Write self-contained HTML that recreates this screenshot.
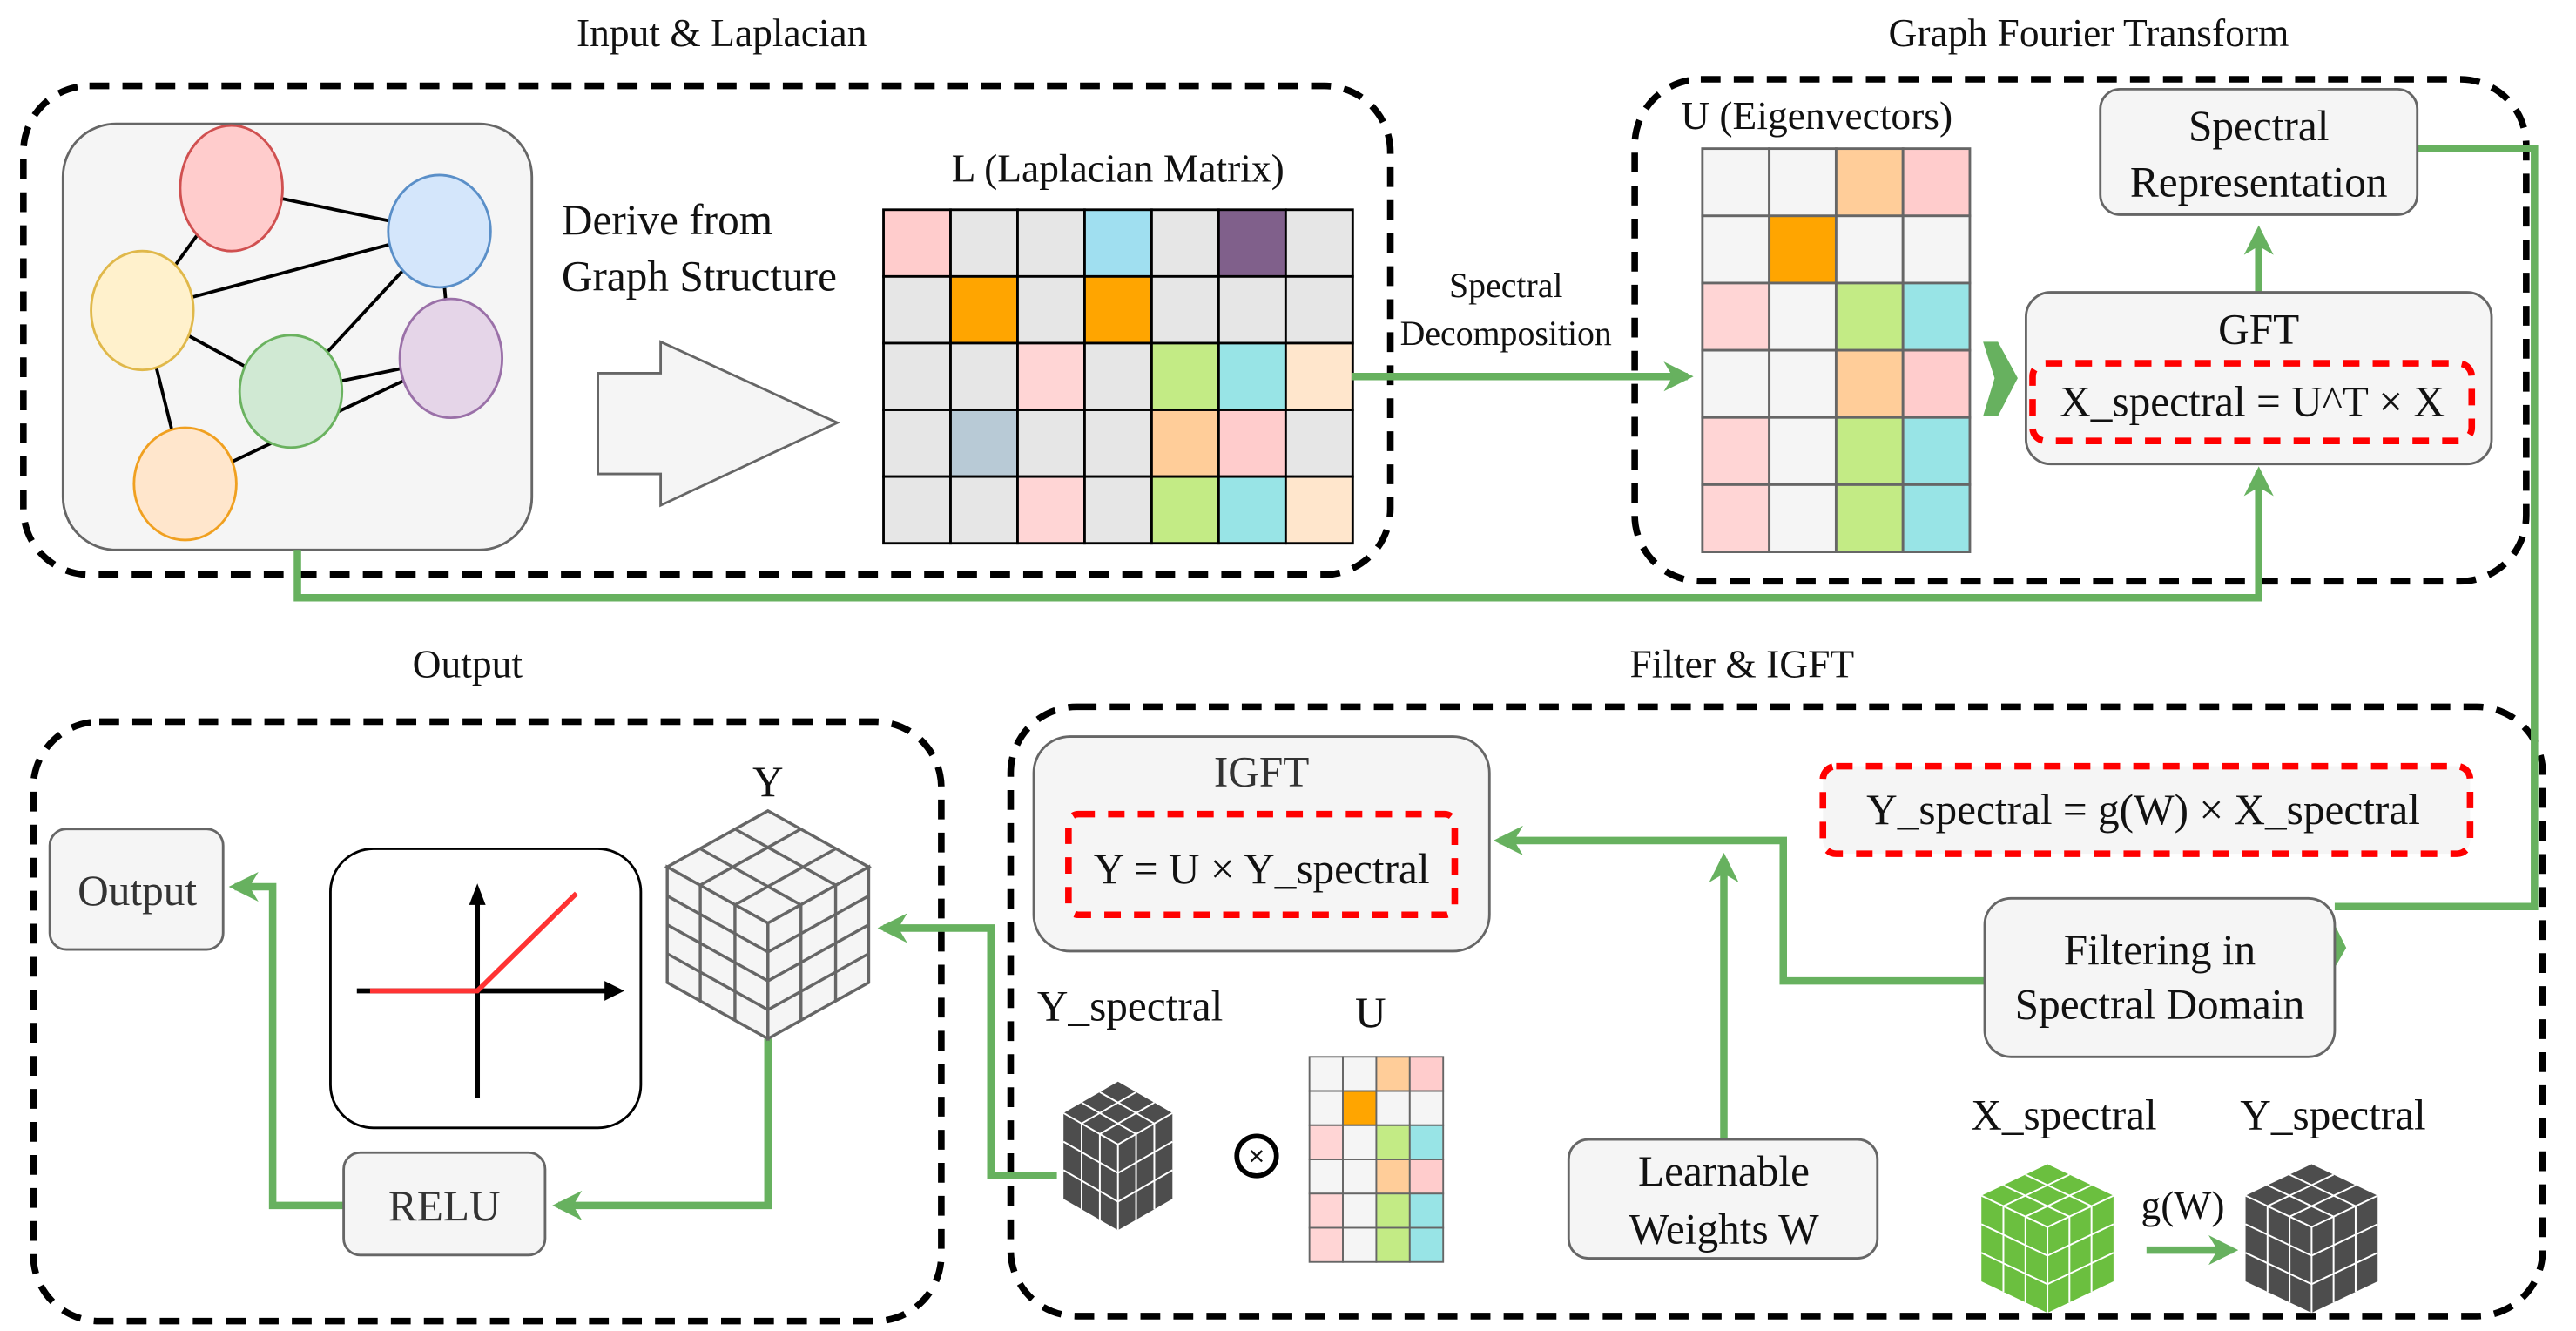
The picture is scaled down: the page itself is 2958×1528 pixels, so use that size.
<!DOCTYPE html>
<html><head><meta charset="utf-8"><style>
html,body{margin:0;padding:0;background:#fff;}
svg{display:block;}
text{font-family:"Liberation Serif","Times New Roman",serif;fill:#111;}
</style></head><body>
<svg width="2958" height="1528" viewBox="0 0 1560 806" xmlns="http://www.w3.org/2000/svg" font-family="Liberation Serif, serif">
<defs>
<marker id="ah" viewBox="0 0 10 10" refX="8" refY="5" markerWidth="4" markerHeight="4" orient="auto" markerUnits="strokeWidth">
<path d="M0,0 L10,5 L0,10 L3,5 Z" fill="#67b15f"/>
</marker>
</defs>

<g font-size="24" text-anchor="middle">
<text x="437" y="28">Input &amp; Laplacian</text>
<text x="1265" y="28">Graph Fourier Transform</text>
<text x="283" y="410">Output</text>
<text x="1055" y="410">Filter &amp; IGFT</text>
</g>

<g fill="none" stroke="#000" stroke-width="4" stroke-dasharray="12 8">
<rect x="14" y="52" width="828" height="296" rx="40"/>
<rect x="990" y="48" width="540" height="304" rx="40"/>
<rect x="20" y="437" width="550" height="363" rx="40"/>
<rect x="612" y="428" width="928" height="369" rx="40"/>
</g>

<rect x="38" y="75" width="284" height="258" rx="32" fill="#f5f5f5" stroke="#666" stroke-width="1.5"/>
<g stroke="#000" stroke-width="2">
<line x1="140" y1="114" x2="86" y2="188"/>
<line x1="140" y1="114" x2="266" y2="140"/>
<line x1="86" y1="188" x2="266" y2="140"/>
<line x1="176" y1="237" x2="266" y2="140"/>
<line x1="86" y1="188" x2="176" y2="237"/>
<line x1="86" y1="188" x2="112" y2="293"/>
<line x1="176" y1="237" x2="273" y2="217"/>
<line x1="112" y1="293" x2="273" y2="217"/>
<line x1="266" y1="140" x2="273" y2="217"/>
</g>
<g stroke-width="1.5">
<ellipse cx="140" cy="114" rx="31" ry="38" fill="#ffcccc" stroke="#d05050"/>
<ellipse cx="266" cy="140" rx="31" ry="34" fill="#d4e6fb" stroke="#5a8fc8"/>
<ellipse cx="86" cy="188" rx="31" ry="36" fill="#fff1cc" stroke="#e0b84a"/>
<ellipse cx="273" cy="217" rx="31" ry="36" fill="#e5d5e8" stroke="#9a70a8"/>
<ellipse cx="176" cy="237" rx="31" ry="34" fill="#d0e9d3" stroke="#6ab25f"/>
<ellipse cx="112" cy="293" rx="31" ry="34" fill="#ffe6cc" stroke="#f0a020"/>
</g>

<text x="340" y="142" font-size="26">Derive from</text>
<text x="340" y="176" font-size="26">Graph Structure</text>
<polygon points="362,226 400,226 400,207 507,256 400,306 400,287 362,287" fill="#f5f5f5" stroke="#666" stroke-width="1.5"/>

<text x="677" y="110" font-size="24" text-anchor="middle">L (Laplacian Matrix)</text>
<g stroke="#000" stroke-width="1.5">
<rect x="535" y="127" width="40.6" height="40.4" fill="#ffcccc"/>
<rect x="575.6" y="127" width="40.6" height="40.4" fill="#e6e6e6"/>
<rect x="616.2" y="127" width="40.6" height="40.4" fill="#e6e6e6"/>
<rect x="656.8" y="127" width="40.6" height="40.4" fill="#a0dff0"/>
<rect x="697.4" y="127" width="40.6" height="40.4" fill="#e6e6e6"/>
<rect x="738" y="127" width="40.6" height="40.4" fill="#80608b"/>
<rect x="778.6" y="127" width="40.6" height="40.4" fill="#e6e6e6"/>
<rect x="535" y="167.4" width="40.6" height="40.4" fill="#e6e6e6"/>
<rect x="575.6" y="167.4" width="40.6" height="40.4" fill="#ffa500"/>
<rect x="616.2" y="167.4" width="40.6" height="40.4" fill="#e6e6e6"/>
<rect x="656.8" y="167.4" width="40.6" height="40.4" fill="#ffa500"/>
<rect x="697.4" y="167.4" width="40.6" height="40.4" fill="#e6e6e6"/>
<rect x="738" y="167.4" width="40.6" height="40.4" fill="#e6e6e6"/>
<rect x="778.6" y="167.4" width="40.6" height="40.4" fill="#e6e6e6"/>
<rect x="535" y="207.8" width="40.6" height="40.4" fill="#e6e6e6"/>
<rect x="575.6" y="207.8" width="40.6" height="40.4" fill="#e6e6e6"/>
<rect x="616.2" y="207.8" width="40.6" height="40.4" fill="#ffd5d5"/>
<rect x="656.8" y="207.8" width="40.6" height="40.4" fill="#e6e6e6"/>
<rect x="697.4" y="207.8" width="40.6" height="40.4" fill="#c3eb85"/>
<rect x="738" y="207.8" width="40.6" height="40.4" fill="#98e4e6"/>
<rect x="778.6" y="207.8" width="40.6" height="40.4" fill="#ffe6cc"/>
<rect x="535" y="248.2" width="40.6" height="40.4" fill="#e6e6e6"/>
<rect x="575.6" y="248.2" width="40.6" height="40.4" fill="#b8cad6"/>
<rect x="616.2" y="248.2" width="40.6" height="40.4" fill="#e6e6e6"/>
<rect x="656.8" y="248.2" width="40.6" height="40.4" fill="#e6e6e6"/>
<rect x="697.4" y="248.2" width="40.6" height="40.4" fill="#ffcd99"/>
<rect x="738" y="248.2" width="40.6" height="40.4" fill="#ffcccc"/>
<rect x="778.6" y="248.2" width="40.6" height="40.4" fill="#e6e6e6"/>
<rect x="535" y="288.6" width="40.6" height="40.4" fill="#e6e6e6"/>
<rect x="575.6" y="288.6" width="40.6" height="40.4" fill="#e6e6e6"/>
<rect x="616.2" y="288.6" width="40.6" height="40.4" fill="#ffd5d5"/>
<rect x="656.8" y="288.6" width="40.6" height="40.4" fill="#e6e6e6"/>
<rect x="697.4" y="288.6" width="40.6" height="40.4" fill="#c3eb85"/>
<rect x="738" y="288.6" width="40.6" height="40.4" fill="#98e4e6"/>
<rect x="778.6" y="288.6" width="40.6" height="40.4" fill="#ffe6cc"/>
</g>

<g fill="none" stroke="#67b15f" stroke-width="4.5" stroke-linejoin="miter">
<polyline points="819,228 1022,228" marker-end="url(#ah)"/>
<polyline points="1368,177 1368,140" marker-end="url(#ah)"/>
<polyline points="180,333 180,362 1368,362 1368,286" marker-end="url(#ah)"/>
<polyline points="1464,90 1535,90 1535,549 1414,549"/>
<polyline points="465,629 465,730 338,730" marker-end="url(#ah)"/>
<polyline points="208,730 165,730 165,537 142,537" marker-end="url(#ah)"/>
<polyline points="640,712 600,712 600,562 535,562" marker-end="url(#ah)"/>
<polyline points="1044,690 1044,520" marker-end="url(#ah)"/>
<polyline points="1202,594 1080,594 1080,509 908,509" marker-end="url(#ah)"/>
<polyline points="1300,757 1352,757" marker-end="url(#ah)"/>
</g>
<polygon points="1414,560 1421,574 1414,586" fill="#67b15f"/>

<text x="912" y="180" font-size="21" text-anchor="middle">Spectral</text>
<text x="912" y="209" font-size="21" text-anchor="middle">Decomposition</text>

<text x="1018" y="78" font-size="24">U (Eigenvectors)</text>
<g stroke="#666" stroke-width="1.5">
<rect x="1031" y="90" width="40.5" height="40.7" fill="#f5f5f5"/>
<rect x="1071.5" y="90" width="40.5" height="40.7" fill="#f5f5f5"/>
<rect x="1112" y="90" width="40.5" height="40.7" fill="#ffcd99"/>
<rect x="1152.5" y="90" width="40.5" height="40.7" fill="#ffcccc"/>
<rect x="1031" y="130.7" width="40.5" height="40.7" fill="#f5f5f5"/>
<rect x="1071.5" y="130.7" width="40.5" height="40.7" fill="#ffa500"/>
<rect x="1112" y="130.7" width="40.5" height="40.7" fill="#f5f5f5"/>
<rect x="1152.5" y="130.7" width="40.5" height="40.7" fill="#f5f5f5"/>
<rect x="1031" y="171.4" width="40.5" height="40.7" fill="#ffd5d5"/>
<rect x="1071.5" y="171.4" width="40.5" height="40.7" fill="#f5f5f5"/>
<rect x="1112" y="171.4" width="40.5" height="40.7" fill="#c3eb85"/>
<rect x="1152.5" y="171.4" width="40.5" height="40.7" fill="#98e4e6"/>
<rect x="1031" y="212.1" width="40.5" height="40.7" fill="#f5f5f5"/>
<rect x="1071.5" y="212.1" width="40.5" height="40.7" fill="#f5f5f5"/>
<rect x="1112" y="212.1" width="40.5" height="40.7" fill="#ffcd99"/>
<rect x="1152.5" y="212.1" width="40.5" height="40.7" fill="#ffcccc"/>
<rect x="1031" y="252.8" width="40.5" height="40.7" fill="#ffd5d5"/>
<rect x="1071.5" y="252.8" width="40.5" height="40.7" fill="#f5f5f5"/>
<rect x="1112" y="252.8" width="40.5" height="40.7" fill="#c3eb85"/>
<rect x="1152.5" y="252.8" width="40.5" height="40.7" fill="#98e4e6"/>
<rect x="1031" y="293.5" width="40.5" height="40.7" fill="#ffd5d5"/>
<rect x="1071.5" y="293.5" width="40.5" height="40.7" fill="#f5f5f5"/>
<rect x="1112" y="293.5" width="40.5" height="40.7" fill="#c3eb85"/>
<rect x="1152.5" y="293.5" width="40.5" height="40.7" fill="#98e4e6"/>
</g>
<polygon points="1201,207 1210,207 1222,229 1210,252 1201,252 1208,229" fill="#67b15f"/>

<rect x="1227" y="177" width="282" height="104" rx="15" fill="#f5f5f5" stroke="#666" stroke-width="1.5"/>
<text x="1368" y="208" font-size="26" text-anchor="middle">GFT</text>
<rect x="1231" y="220" width="266" height="47" rx="8" fill="none" stroke="#f00" stroke-width="4" stroke-dasharray="10 8"/>
<text x="1364" y="252" font-size="26" text-anchor="middle">X_spectral = U^T × X</text>

<rect x="1272" y="54" width="192" height="76" rx="12" fill="#f5f5f5" stroke="#666" stroke-width="1.5"/>
<text x="1368" y="85" font-size="26" text-anchor="middle">Spectral</text>
<text x="1368" y="119" font-size="26" text-anchor="middle">Representation</text>

<rect x="30" y="502" width="105" height="73" rx="10" fill="#f5f5f5" stroke="#666" stroke-width="1.5"/>
<text x="83" y="548" font-size="26" text-anchor="middle" style="fill:#333">Output</text>

<rect x="200" y="514" width="188" height="169" rx="26" fill="#fff" stroke="#000" stroke-width="1.5"/>
<line x1="289" y1="665" x2="289" y2="545" stroke="#000" stroke-width="3"/>
<polygon points="289,535 284,548 294,548" fill="#000"/>
<line x1="216" y1="600" x2="368" y2="600" stroke="#000" stroke-width="3"/>
<polygon points="378,600 366,594 366,606" fill="#000"/>
<polyline points="224,600 289,600 349,541" fill="none" stroke="#f33" stroke-width="3"/>

<text x="465" y="482" font-size="26" text-anchor="middle">Y</text>
<!-- Y cube: top 491, corner 527, center 558, bottom 629 -->
<g stroke="#666" stroke-width="1.8" fill="#f5f5f5">
<polygon points="465,491 526,525 465,559 404,525"/>
<polygon points="404,525 465,559 465,629 404,595"/>
<polygon points="465,559 526,525 526,595 465,629"/>
<g fill="none">
<line x1="485" y1="502" x2="424" y2="536"/>
<line x1="506" y1="514" x2="445" y2="548"/>
<line x1="445" y1="502" x2="506" y2="536"/>
<line x1="424" y1="514" x2="485" y2="548"/>
<line x1="424" y1="536" x2="424" y2="606"/>
<line x1="445" y1="548" x2="445" y2="618"/>
<line x1="485" y1="548" x2="485" y2="618"/>
<line x1="506" y1="536" x2="506" y2="606"/>
<line x1="404" y1="542.5" x2="465" y2="576.5"/>
<line x1="404" y1="560" x2="465" y2="594"/>
<line x1="404" y1="577.5" x2="465" y2="611.5"/>
<line x1="465" y1="576.5" x2="526" y2="542.5"/>
<line x1="465" y1="594" x2="526" y2="560"/>
<line x1="465" y1="611.5" x2="526" y2="577.5"/>
</g>
</g>

<rect x="208" y="698" width="122" height="62" rx="10" fill="#f5f5f5" stroke="#666" stroke-width="1.5"/>
<text x="269" y="739" font-size="26" text-anchor="middle" style="fill:#333">RELU</text>

<rect x="626" y="446" width="276" height="130" rx="22" fill="#f5f5f5" stroke="#666" stroke-width="1.5"/>
<text x="764" y="476" font-size="26" text-anchor="middle" style="fill:#333">IGFT</text>
<rect x="647" y="493" width="234" height="61" rx="6" fill="none" stroke="#f00" stroke-width="4" stroke-dasharray="10 8"/>
<text x="764" y="535" font-size="26" text-anchor="middle">Y = U × Y_spectral</text>

<text x="628" y="618" font-size="26">Y_spectral</text>
<text x="830" y="622" font-size="26" text-anchor="middle">U</text>

<g transform="translate(677,655) scale(33,34.6)">
<polygon points="0,0 1,0.55 0,1.1 -1,0.55" fill="#4d4d4d"/>
<polygon points="-1,0.55 0,1.1 0,2.6 -1,2.05" fill="#4d4d4d"/>
<polygon points="0,1.1 1,0.55 1,2.05 0,2.6" fill="#4d4d4d"/>
<g stroke="#fff" stroke-width="2">
<line x1="0" y1="1.1" x2="0" y2="2.6" vector-effect="non-scaling-stroke"/>
<line x1="-1" y1="0.55" x2="0" y2="1.1" vector-effect="non-scaling-stroke"/>
<line x1="1" y1="0.55" x2="0" y2="1.1" vector-effect="non-scaling-stroke"/>
<line x1="0.333" y1="0.183" x2="-0.667" y2="0.733" vector-effect="non-scaling-stroke"/>
<line x1="0.667" y1="0.367" x2="-0.333" y2="0.917" vector-effect="non-scaling-stroke"/>
<line x1="-0.333" y1="0.183" x2="0.667" y2="0.733" vector-effect="non-scaling-stroke"/>
<line x1="-0.667" y1="0.367" x2="0.333" y2="0.917" vector-effect="non-scaling-stroke"/>
<line x1="-0.667" y1="0.733" x2="-0.667" y2="2.233" vector-effect="non-scaling-stroke"/>
<line x1="-0.333" y1="0.917" x2="-0.333" y2="2.417" vector-effect="non-scaling-stroke"/>
<line x1="0.333" y1="0.917" x2="0.333" y2="2.417" vector-effect="non-scaling-stroke"/>
<line x1="0.667" y1="0.733" x2="0.667" y2="2.233" vector-effect="non-scaling-stroke"/>
<line x1="-1" y1="1.05" x2="0" y2="1.6" vector-effect="non-scaling-stroke"/>
<line x1="-1" y1="1.55" x2="0" y2="2.1" vector-effect="non-scaling-stroke"/>
<line x1="0" y1="1.6" x2="1" y2="1.05" vector-effect="non-scaling-stroke"/>
<line x1="0" y1="2.1" x2="1" y2="1.55" vector-effect="non-scaling-stroke"/>
</g>
</g>

<circle cx="761" cy="700" r="12" fill="#fff" stroke="#000" stroke-width="3"/>
<text x="761" y="706" font-size="18" text-anchor="middle" font-weight="bold">×</text>

<g stroke="#666" stroke-width="1">
<rect x="793" y="640" width="20.25" height="20.7" fill="#f5f5f5"/>
<rect x="813.25" y="640" width="20.25" height="20.7" fill="#f5f5f5"/>
<rect x="833.5" y="640" width="20.25" height="20.7" fill="#ffcd99"/>
<rect x="853.75" y="640" width="20.25" height="20.7" fill="#ffcccc"/>
<rect x="793" y="660.7" width="20.25" height="20.7" fill="#f5f5f5"/>
<rect x="813.25" y="660.7" width="20.25" height="20.7" fill="#ffa500"/>
<rect x="833.5" y="660.7" width="20.25" height="20.7" fill="#f5f5f5"/>
<rect x="853.75" y="660.7" width="20.25" height="20.7" fill="#f5f5f5"/>
<rect x="793" y="681.4" width="20.25" height="20.7" fill="#ffd5d5"/>
<rect x="813.25" y="681.4" width="20.25" height="20.7" fill="#f5f5f5"/>
<rect x="833.5" y="681.4" width="20.25" height="20.7" fill="#c3eb85"/>
<rect x="853.75" y="681.4" width="20.25" height="20.7" fill="#98e4e6"/>
<rect x="793" y="702.1" width="20.25" height="20.7" fill="#f5f5f5"/>
<rect x="813.25" y="702.1" width="20.25" height="20.7" fill="#f5f5f5"/>
<rect x="833.5" y="702.1" width="20.25" height="20.7" fill="#ffcd99"/>
<rect x="853.75" y="702.1" width="20.25" height="20.7" fill="#ffcccc"/>
<rect x="793" y="722.8" width="20.25" height="20.7" fill="#ffd5d5"/>
<rect x="813.25" y="722.8" width="20.25" height="20.7" fill="#f5f5f5"/>
<rect x="833.5" y="722.8" width="20.25" height="20.7" fill="#c3eb85"/>
<rect x="853.75" y="722.8" width="20.25" height="20.7" fill="#98e4e6"/>
<rect x="793" y="743.5" width="20.25" height="20.7" fill="#ffd5d5"/>
<rect x="813.25" y="743.5" width="20.25" height="20.7" fill="#f5f5f5"/>
<rect x="833.5" y="743.5" width="20.25" height="20.7" fill="#c3eb85"/>
<rect x="853.75" y="743.5" width="20.25" height="20.7" fill="#98e4e6"/>
</g>

<rect x="950" y="690" width="187" height="72" rx="12" fill="#f5f5f5" stroke="#666" stroke-width="1.5"/>
<text x="1044" y="718" font-size="26" text-anchor="middle">Learnable</text>
<text x="1044" y="753" font-size="26" text-anchor="middle">Weights W</text>

<rect x="1202" y="544" width="212" height="96" rx="16" fill="#f5f5f5" stroke="#666" stroke-width="1.5"/>
<text x="1308" y="584" font-size="26" text-anchor="middle">Filtering in</text>
<text x="1308" y="617" font-size="26" text-anchor="middle">Spectral Domain</text>

<rect x="1104" y="464" width="392" height="53" rx="8" fill="#f5f5f5" stroke="#f00" stroke-width="4" stroke-dasharray="10 8"/>
<text x="1298" y="499" font-size="26" text-anchor="middle">Y_spectral = g(W) × X_spectral</text>

<text x="1250" y="684" font-size="26" text-anchor="middle">X_spectral</text>
<text x="1413" y="684" font-size="26" text-anchor="middle">Y_spectral</text>
<text x="1322" y="738" font-size="24" text-anchor="middle">g(W)</text>

<g transform="translate(1240,705) scale(40,34.6)">
<polygon points="0,0 1,0.55 0,1.1 -1,0.55" fill="#6bbf3f"/>
<polygon points="-1,0.55 0,1.1 0,2.6 -1,2.05" fill="#6bbf3f"/>
<polygon points="0,1.1 1,0.55 1,2.05 0,2.6" fill="#6bbf3f"/>
<g stroke="#fff" stroke-width="2">
<line x1="0" y1="1.1" x2="0" y2="2.6" vector-effect="non-scaling-stroke"/>
<line x1="-1" y1="0.55" x2="0" y2="1.1" vector-effect="non-scaling-stroke"/>
<line x1="1" y1="0.55" x2="0" y2="1.1" vector-effect="non-scaling-stroke"/>
<line x1="0.333" y1="0.183" x2="-0.667" y2="0.733" vector-effect="non-scaling-stroke"/>
<line x1="0.667" y1="0.367" x2="-0.333" y2="0.917" vector-effect="non-scaling-stroke"/>
<line x1="-0.333" y1="0.183" x2="0.667" y2="0.733" vector-effect="non-scaling-stroke"/>
<line x1="-0.667" y1="0.367" x2="0.333" y2="0.917" vector-effect="non-scaling-stroke"/>
<line x1="-0.667" y1="0.733" x2="-0.667" y2="2.233" vector-effect="non-scaling-stroke"/>
<line x1="-0.333" y1="0.917" x2="-0.333" y2="2.417" vector-effect="non-scaling-stroke"/>
<line x1="0.333" y1="0.917" x2="0.333" y2="2.417" vector-effect="non-scaling-stroke"/>
<line x1="0.667" y1="0.733" x2="0.667" y2="2.233" vector-effect="non-scaling-stroke"/>
<line x1="-1" y1="1.05" x2="0" y2="1.6" vector-effect="non-scaling-stroke"/>
<line x1="-1" y1="1.55" x2="0" y2="2.1" vector-effect="non-scaling-stroke"/>
<line x1="0" y1="1.6" x2="1" y2="1.05" vector-effect="non-scaling-stroke"/>
<line x1="0" y1="2.1" x2="1" y2="1.55" vector-effect="non-scaling-stroke"/>
</g>
</g>

<g transform="translate(1400,705) scale(40,34.6)">
<polygon points="0,0 1,0.55 0,1.1 -1,0.55" fill="#4d4d4d"/>
<polygon points="-1,0.55 0,1.1 0,2.6 -1,2.05" fill="#4d4d4d"/>
<polygon points="0,1.1 1,0.55 1,2.05 0,2.6" fill="#4d4d4d"/>
<g stroke="#fff" stroke-width="2">
<line x1="0" y1="1.1" x2="0" y2="2.6" vector-effect="non-scaling-stroke"/>
<line x1="-1" y1="0.55" x2="0" y2="1.1" vector-effect="non-scaling-stroke"/>
<line x1="1" y1="0.55" x2="0" y2="1.1" vector-effect="non-scaling-stroke"/>
<line x1="0.333" y1="0.183" x2="-0.667" y2="0.733" vector-effect="non-scaling-stroke"/>
<line x1="0.667" y1="0.367" x2="-0.333" y2="0.917" vector-effect="non-scaling-stroke"/>
<line x1="-0.333" y1="0.183" x2="0.667" y2="0.733" vector-effect="non-scaling-stroke"/>
<line x1="-0.667" y1="0.367" x2="0.333" y2="0.917" vector-effect="non-scaling-stroke"/>
<line x1="-0.667" y1="0.733" x2="-0.667" y2="2.233" vector-effect="non-scaling-stroke"/>
<line x1="-0.333" y1="0.917" x2="-0.333" y2="2.417" vector-effect="non-scaling-stroke"/>
<line x1="0.333" y1="0.917" x2="0.333" y2="2.417" vector-effect="non-scaling-stroke"/>
<line x1="0.667" y1="0.733" x2="0.667" y2="2.233" vector-effect="non-scaling-stroke"/>
<line x1="-1" y1="1.05" x2="0" y2="1.6" vector-effect="non-scaling-stroke"/>
<line x1="-1" y1="1.55" x2="0" y2="2.1" vector-effect="non-scaling-stroke"/>
<line x1="0" y1="1.6" x2="1" y2="1.05" vector-effect="non-scaling-stroke"/>
<line x1="0" y1="2.1" x2="1" y2="1.55" vector-effect="non-scaling-stroke"/>
</g>
</g>
</svg>
</body></html>
